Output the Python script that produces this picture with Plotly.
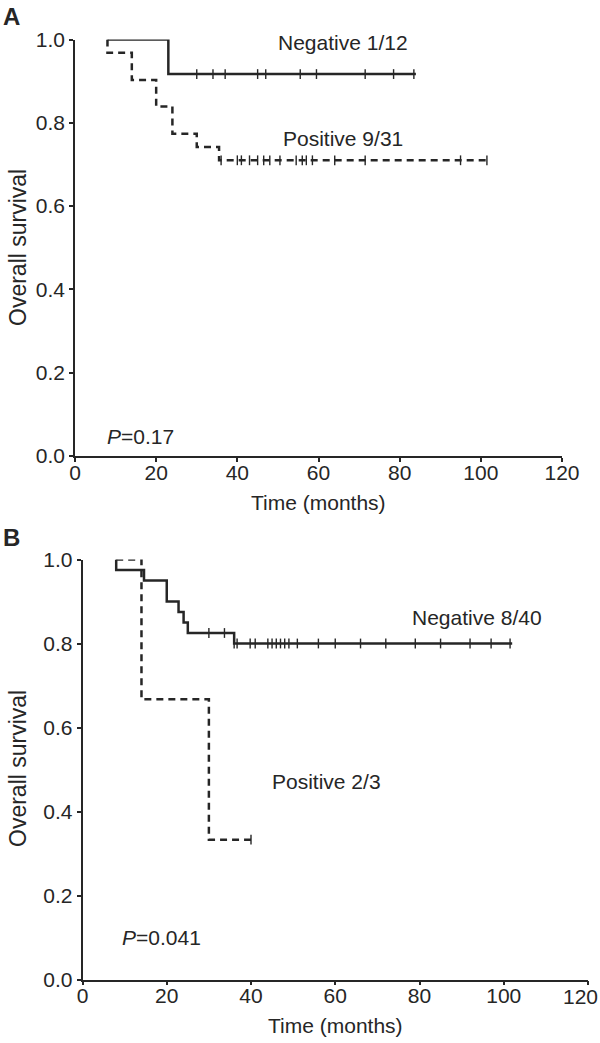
import numpy as np
import plotly.graph_objects as go

# ---------------- Data ----------------
# Panel A
a_neg_t = [8, 23, 84]
a_neg_s = [1.0, 0.917, 0.917]
a_neg_cens = [30, 34, 37, 45, 47, 55.5, 59.5, 71.5, 78.5, 83.5]

a_pos_t = [8, 8, 14, 20, 24, 30, 35.5, 102]
a_pos_s = [1.0, 0.968, 0.903, 0.839, 0.774, 0.742, 0.710, 0.710]
a_pos_cens = [36, 40, 41, 43, 45, 46.5, 48, 50.5, 54.5, 56, 57, 58.5, 64, 71.5, 95, 101.5]

# Panel B
b_neg_t = [8, 8, 14.6, 20, 22.8, 24, 25, 36, 102]
b_neg_s = [1.0, 0.975, 0.95, 0.90, 0.875, 0.85, 0.825, 0.80, 0.80]
b_neg_cens = [30, 33.7, 36, 36.7, 39.8, 41, 44, 45, 46, 47, 48, 49, 51, 56, 60, 66, 72, 79, 85, 92, 97, 101.5]

b_pos_t = [8, 14, 30, 40]
b_pos_s = [1.0, 0.667, 0.333, 0.333]
b_pos_cens = [40]

x_ticks = [0, 20, 40, 60, 80, 100, 120]
x_tick_text = ["0", "20", "40", "60", "80", "100", "120"]
y_ticks = [0.0, 0.2, 0.4, 0.6, 0.8, 1.0]
y_tick_text = ["0.0", "0.2", "0.4", "0.6", "0.8", "1.0"]

# ---------------- Helpers ----------------
def surv_at(times, surv, t):
    idx = np.searchsorted(np.array(times), t, side="right") - 1
    return surv[max(idx, 0)]

COL = "#262626"
FONT = "Liberation Sans, Arial, sans-serif"
FS = 21

fig = go.Figure()

def add_curve(t, s, cens, dash, xa, ya):
    fig.add_trace(go.Scatter(
        x=t, y=s, mode="lines", line=dict(color=COL, width=2.5, dash=dash, shape="hv"),
        xaxis=xa, yaxis=ya, showlegend=False, hoverinfo="skip", cliponaxis=False))
    fig.add_trace(go.Scatter(
        x=cens, y=[surv_at(t, s, c) for c in cens], mode="markers",
        marker=dict(symbol="line-ns", size=7, line=dict(color=COL, width=1.4)),
        xaxis=xa, yaxis=ya, showlegend=False, hoverinfo="skip", cliponaxis=False))

add_curve(a_neg_t, a_neg_s, a_neg_cens, "solid", "x", "y")
add_curve(a_pos_t, a_pos_s, a_pos_cens, "7px,5px", "x", "y")
add_curve(b_neg_t, b_neg_s, b_neg_cens, "solid", "x2", "y2")
add_curve(b_pos_t, b_pos_s, b_pos_cens, "7px,5px", "x2", "y2")

H = 1043.0
W = 600.0

axis_common = dict(
    showline=True, linecolor=COL, linewidth=1.5, ticks="outside", ticklen=4,
    tickcolor=COL, tickwidth=1.5, showgrid=False, zeroline=False,
    tickfont=dict(family=FONT, size=FS, color=COL),
)
x_extra = dict(ticklabelstandoff=-7, ticklabeloverflow="allow")

# last label of panel B sits at the page edge: drawn right-aligned below
b_x_tick_text = x_tick_text[:-1] + [""]

fig.update_layout(
    width=600, height=1043,
    margin=dict(l=0, r=0, t=0, b=0, autoexpand=False),
    paper_bgcolor="white", plot_bgcolor="white",
    xaxis=dict(domain=[75 / W, 562 / W], range=[0, 120], tickvals=x_ticks,
               ticktext=x_tick_text, anchor="y", **axis_common, **x_extra),
    yaxis=dict(domain=[1 - 456 / H, 1 - 39.5 / H], range=[0, 1], tickvals=y_ticks,
               ticktext=y_tick_text, anchor="x", **axis_common),
    xaxis2=dict(domain=[82.5 / W, 588 / W], range=[0, 120], tickvals=x_ticks,
                ticktext=b_x_tick_text, anchor="y2", **axis_common, **x_extra),
    yaxis2=dict(domain=[1 - 979.5 / H, 1 - 559.5 / H], range=[0, 1], tickvals=y_ticks,
                ticktext=y_tick_text, anchor="x2", **axis_common),
)

def ann(text, x, y, xref, yref, xanchor="center", yanchor="middle", size=FS, angle=0):
    fig.add_annotation(text=text, x=x, y=y, xref=xref, yref=yref, showarrow=False,
                       xanchor=xanchor, yanchor=yanchor, textangle=angle,
                       font=dict(family=FONT, size=size, color=COL))

# Panel A texts
ann("Negative 1/12", 66, 0.993, "x", "y")
ann("Positive 9/31", 66, 0.762, "x", "y")
ann("<i>P</i>=0.17", 7.5, 0.046, "x", "y", xanchor="left")
# Panel B texts
ann("Negative 8/40", 93.7, 0.863, "x2", "y2")
ann("Positive 2/3", 58, 0.472, "x2", "y2")
ann("<i>P</i>=0.041", 9, 0.10, "x2", "y2", xanchor="left")
ann(x_tick_text[-1], 1.0, 1 - 996 / H, "paper", "paper", xanchor="right")

# Axis titles
ann("Time (months)", 318.5 / W, 1 - 503 / H, "paper", "paper")
ann("Time (months)", 335 / W, 1 - 1025 / H, "paper", "paper")
ann("Overall survival", 18 / W, 1 - 248 / H, "paper", "paper", angle=-90, size=23)
ann("Overall survival", 18 / W, 1 - 769 / H, "paper", "paper", angle=-90, size=23)

# Panel labels
ann("<b>A</b>", 1 / W, 1 - 16 / H, "paper", "paper", xanchor="left", size=24)
ann("<b>B</b>", 1 / W, 1 - 537 / H, "paper", "paper", xanchor="left", size=24)

fig.write_html(
    "out.html",
    config={"displayModeBar": False},
    post_script="document.body.style.margin='0px';document.body.style.overflow='hidden';",
)
